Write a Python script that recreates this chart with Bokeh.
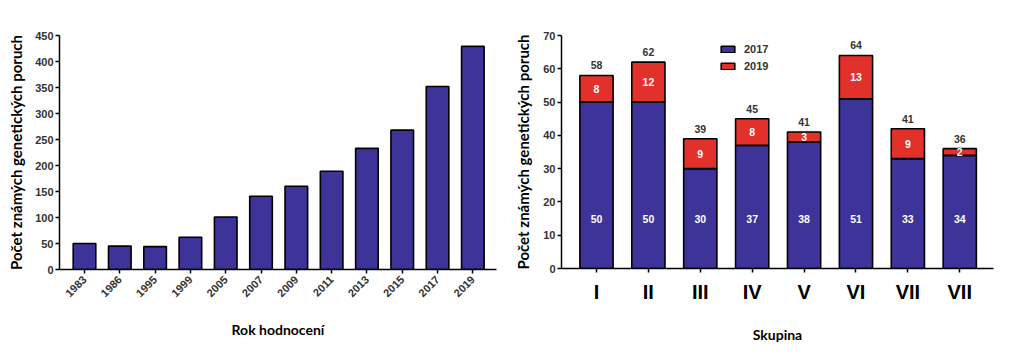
import math
from bokeh.plotting import figure
from bokeh.layouts import row
from bokeh.models import FixedTicker, Range1d, ColumnDataSource, Legend, LegendItem
from bokeh.core.properties import value
from bokeh.embed import file_html
from bokeh.resources import INLINE

# ---- data ----
years = ["1983", "1986", "1995", "1999", "2005", "2007", "2009", "2011", "2013", "2015", "2017", "2019"]
counts = [50, 45, 44, 62, 101, 141, 160, 189, 233, 268, 352, 429]

groups = ["I", "II", "III", "IV", "V", "VI", "VII", "VII"]
v2017 = [50, 50, 30, 37, 38, 51, 33, 34]
v2019 = [8, 12, 9, 8, 3, 13, 9, 2]
totals = [58, 62, 39, 45, 41, 64, 41, 36]

BLUE = "#3d3399"
RED = "#e2302a"
TICK_FONT = "Liberation Sans"
TITLE_FONT = "Lato"
GRAY = "#333333"


def style(p):
    p.outline_line_color = None
    p.xgrid.grid_line_color = None
    p.ygrid.grid_line_color = None
    p.background_fill_color = "white"
    p.border_fill_color = "white"
    for ax in (p.xaxis[0], p.yaxis[0]):
        ax.axis_line_color = "black"
        ax.axis_line_width = 1.5
        ax.major_tick_line_color = "black"
        ax.major_tick_line_width = 1.5
        ax.major_tick_in = 0
        ax.major_tick_out = 4
        ax.minor_tick_line_color = None
        ax.major_label_text_font = TICK_FONT
        ax.major_label_text_font_style = "bold"
        ax.major_label_text_color = GRAY
        ax.axis_label_text_font = TITLE_FONT
        ax.axis_label_text_font_style = "bold"
        ax.axis_label_text_color = "black"


# ---- left chart ----
xs = list(range(len(years)))
p1 = figure(frame_width=437, frame_height=234, output_backend="svg", toolbar_location=None,
            x_range=Range1d(-0.708, 11.67), y_range=Range1d(0, 450),
            min_border_left=50, min_border_right=5, min_border_top=33, min_border_bottom=72)
p1.margin = (0, 0, 0, 4)
p1.vbar(x=xs, top=counts, width=0.64, fill_color=BLUE, line_color="black", line_width=1.6)
style(p1)
p1.xaxis.ticker = FixedTicker(ticks=xs)
p1.xaxis.major_label_overrides = {i: y for i, y in enumerate(years)}
p1.xaxis.major_label_orientation = math.pi / 4
p1.xaxis.major_label_text_font_size = "11px"
p1.xaxis.major_label_standoff = 4
p1.yaxis.ticker = FixedTicker(ticks=list(range(0, 451, 50)))
p1.yaxis.major_label_text_font_size = "11px"
p1.yaxis.major_label_standoff = 2
p1.xaxis.axis_label = "Rok hodnocení"
p1.xaxis.axis_label_text_font_size = "14px"
p1.xaxis.axis_label_standoff = 18
p1.yaxis.axis_label = "Počet známých genetických poruch"
p1.yaxis.axis_label_text_font_size = "15px"
p1.yaxis.axis_label_standoff = 7

# ---- right chart ----
gx = list(range(len(groups)))
src = ColumnDataSource(dict(
    x=gx, a=v2017, b=v2019,
    top=[a + b for a, b in zip(v2017, v2019)],
    mid_b=[a + b / 2 for a, b in zip(v2017, v2019)],
    low=[15] * len(gx),
    ta=[str(v) for v in v2017], tb=[str(v) for v in v2019], tt=[str(v) for v in totals],
))
p2 = figure(frame_width=432, frame_height=233, output_backend="svg", toolbar_location=None,
            x_range=Range1d(-0.674, 7.65), y_range=Range1d(0, 70),
            min_border_left=60, min_border_right=20, min_border_top=35, min_border_bottom=71)
rs = p2.vbar_stack(["a", "b"], x="x", width=0.64, source=src, fill_color=[BLUE, RED],
                   line_color="black", line_width=1.6)
style(p2)
p2.text(x="x", y="top", text="tt", source=src, text_align="center", text_baseline="bottom",
        y_offset=-6, text_font=value(TICK_FONT), text_font_style="bold", text_font_size="10.5px",
        text_color=GRAY)
p2.text(x="x", y="mid_b", text="tb", source=src, text_align="center", text_baseline="middle",
        text_font=value(TICK_FONT), text_font_style="bold", text_font_size="10.5px",
        text_color="white")
p2.text(x="x", y="low", text="ta", source=src, text_align="center", text_baseline="middle",
        text_font=value(TICK_FONT), text_font_style="bold", text_font_size="10.5px",
        text_color="white")
p2.xaxis.ticker = FixedTicker(ticks=gx)
p2.xaxis.major_label_overrides = {i: g for i, g in enumerate(groups)}
p2.xaxis.major_label_text_font_size = "20px"
p2.xaxis.major_label_text_color = "black"
p2.xaxis.major_label_standoff = 8
p2.yaxis.ticker = FixedTicker(ticks=list(range(0, 71, 10)))
p2.yaxis.major_label_text_font_size = "11px"
p2.yaxis.major_label_standoff = 2
p2.xaxis.axis_label = "Skupina"
p2.xaxis.axis_label_text_font_size = "14px"
p2.xaxis.axis_label_standoff = 20
p2.yaxis.axis_label = "Počet známých genetických poruch"
p2.yaxis.axis_label_text_font_size = "15px"
p2.yaxis.axis_label_standoff = 8

legend = Legend(items=[LegendItem(label="2017", renderers=[rs[0]]),
                       LegendItem(label="2019", renderers=[rs[1]])],
                location=(158, 194), orientation="vertical",
                glyph_width=17, glyph_height=8, label_height=17, spacing=0,
                padding=0, margin=0, label_standoff=8,
                border_line_color=None, background_fill_alpha=0)
legend.label_text_font = TICK_FONT
legend.label_text_font_style = "bold"
legend.label_text_font_size = "11px"
legend.label_text_color = GRAY
p2.add_layout(legend, "center")

layout = row(p1, p2, spacing=0)
open("out.html", "w").write(file_html(layout, INLINE))
